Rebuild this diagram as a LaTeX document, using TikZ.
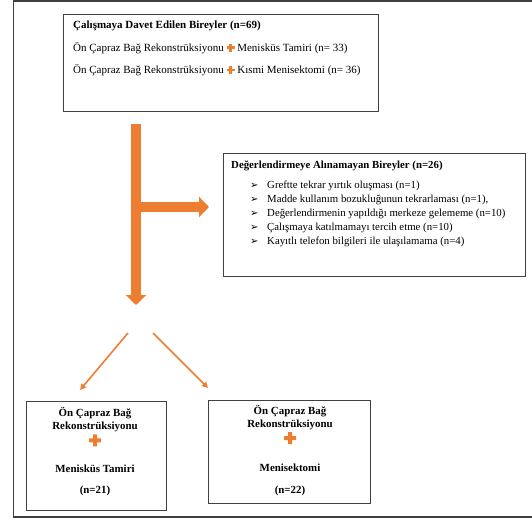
\documentclass[tikz,border=0pt]{standalone}
\usepackage{fontspec}
\setmainfont{Liberation Serif}
\newfontfamily\dejavu{DejaVu Sans}
\usetikzlibrary{arrows.meta}
\definecolor{orng}{HTML}{ED7D31}
\newcommand\orplus{\textcolor{orng}{\rlap{\rule[2.6pt]{8pt}{2.7pt}}\hspace{2.65pt}\rule[-0.05pt]{2.7pt}{8pt}\hspace{2.65pt}}}
\begin{document}
\begin{tikzpicture}[x=1pt,y=-1pt,
  box/.style={draw=black!75, line width=0.9pt, inner sep=0pt, anchor=north west},
  txt/.style={anchor=base west, inner sep=0pt, font=\fontsize{10.8}{12}\selectfont},
  ttxt/.style={anchor=base west, inner sep=0pt, font=\fontsize{11}{13}\selectfont},
  ctxt/.style={anchor=base, inner sep=0pt, font=\fontsize{10.9}{12}\selectfont\bfseries},
  bul/.style={anchor=base west, inner sep=0pt, font=\dejavu\fontsize{10}{11}\selectfont},
  bigarrow/.style={draw=orng, line width=10pt, -{Triangle[width=20pt,length=10pt]}},
  thinarrow/.style={draw=orng, line width=1.6pt, -{Triangle[width=6pt,length=6pt]}},
  bigplus/.style={fill=orng, draw=none}
]
\useasboundingbox (0,0) rectangle (532,518);
% outer frame
\draw[line width=1.5pt, black!75] (545,0.8) -- (13.5,0.8) -- (13.5,516.8) -- (545,516.8);

% top box
\node[box, minimum width=315pt, minimum height=97pt] (top) at (63,14) {};
\node[ttxt, font=\fontsize{11}{13}\selectfont\bfseries] (t1) at (73,29) {Çalışmaya Davet Edilen Bireyler (n=69)};
\node[ttxt] (t2) at (73,51.5) {Ön Çapraz Bağ Rekonstrüksiyonu \orplus{} Menisküs Tamiri (n= 33)};
\node[ttxt] (t3) at (73,74) {Ön Çapraz Bağ Rekonstrüksiyonu \orplus{} Kısmi Menisektomi (n= 36)};

% right box
\node[box, minimum width=302pt, minimum height=123pt] (rb) at (223,153) {};
\node[txt, font=\fontsize{10.8}{12}\selectfont\bfseries] (r0) at (231,168.5) {Değerlendirmeye Alınamayan Bireyler (n=26)};
\foreach \yy/\tt [count=\i] in {188.5/{Greftte tekrar yırtık oluşması (n=1)},
  202.5/{Madde kullanım bozukluğunun tekrarlaması (n=1),},
  216.5/{Değerlendirmenin yapıldığı merkeze gelememe (n=10)},
  230.5/{Çalışmaya katılmamayı tercih etme (n=10)},
  244.5/{Kayıtlı telefon bilgileri ile ulaşılamama (n=4)}}{
  \node[bul] (rbul\i) at (250,\yy) {➢};
  \node[txt] (rl\i) at (267,\yy) {\tt};
}

% big orange arrow
\coordinate (vs) at (136,124);
\coordinate (ve) at (136,305);
\coordinate (hs) at (136,207);
\coordinate (he) at (209,207);
\draw[bigarrow] (vs) -- (ve);
\draw[bigarrow] (hs) -- (he);

% thin arrows
\coordinate (l0) at (128,333);
\coordinate (l1) at (80,390);
\coordinate (r0a) at (153,333);
\coordinate (r1a) at (208,388);
\draw[thinarrow] (l0) -- (l1);
\draw[thinarrow] (r0a) -- (r1a);

% bottom left box
\node[box, minimum width=140pt, minimum height=109pt] (bl) at (26,401) {};
\node[ctxt] (bl1) at (95,416.5) {Ön Çapraz Bağ};
\node[ctxt] (bl2) at (95,429) {Rekonstrüksiyonu};
\fill[bigplus] (89,438.3) rectangle (101,442.3) (93,434.3) rectangle (97,446.3);
\node[ctxt] (bl3) at (95,472) {Menisküs Tamiri};
\node[ctxt] (bl4) at (95,493) {(n=21)};

% bottom right box
\node[box, minimum width=162pt, minimum height=103pt] (br) at (208,400) {};
\node[ctxt] (br1) at (290,414.5) {Ön Çapraz Bağ};
\node[ctxt] (br2) at (290,427) {Rekonstrüksiyonu};
\fill[bigplus] (284,436) rectangle (296,440) (288,432) rectangle (292,444);
\node[ctxt] (br3) at (290,471) {Menisektomi};
\node[ctxt] (br4) at (290,493) {(n=22)};
\end{tikzpicture}
\end{document}
